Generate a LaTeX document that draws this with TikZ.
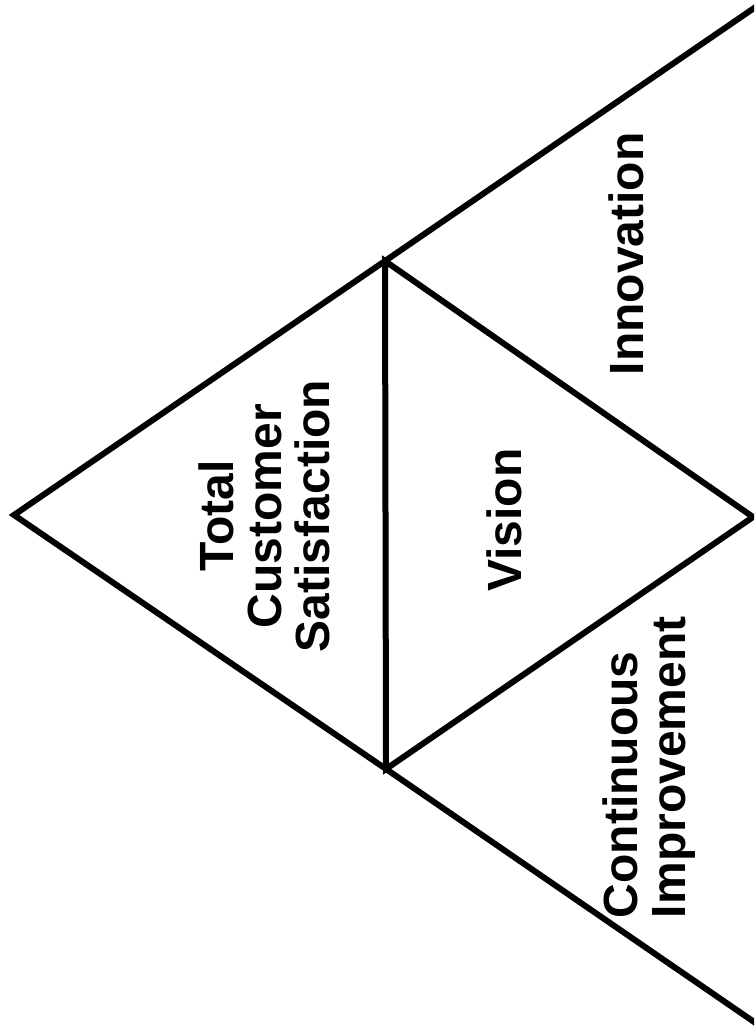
\documentclass[tikz,border=0pt]{standalone}
\usepackage{fontspec}
\setmainfont{Liberation Sans}
\begin{document}
\begin{tikzpicture}[x=1pt, y=-1pt, line width=6pt,
  pyramidtext/.style={font=\bfseries\fontsize{48}{48}\selectfont, rotate=90, inner sep=0pt}]
\useasboundingbox (0,0) rectangle (754,1032);
\clip (0,0) rectangle (754,1032);

% outer wedge
\coordinate (apex) at (14,515);
\coordinate (top) at (385,261);
\coordinate (bottom) at (386,769);
\coordinate (topend) at (760,4);
\coordinate (bottomend) at (760,1026);
\draw (topend) -- (top) -- (apex) -- (bottom) -- (bottomend);

% inner triangle
\coordinate (tip) at (753,517);
\draw (top) -- (tip) -- (bottom) -- cycle;

% labels
\node[pyramidtext, align=center] (tcs) at (264,516) {Total\\Customer\\Satisfaction};
\node[pyramidtext] (vision) at (504,520) {Vision};
\node[pyramidtext] (innovation) at (626,254) {Innovation};
\node[pyramidtext, align=left, anchor=west] (improvement) at (649,921) {Continuous\\Improvement};

\end{tikzpicture}
\end{document}
